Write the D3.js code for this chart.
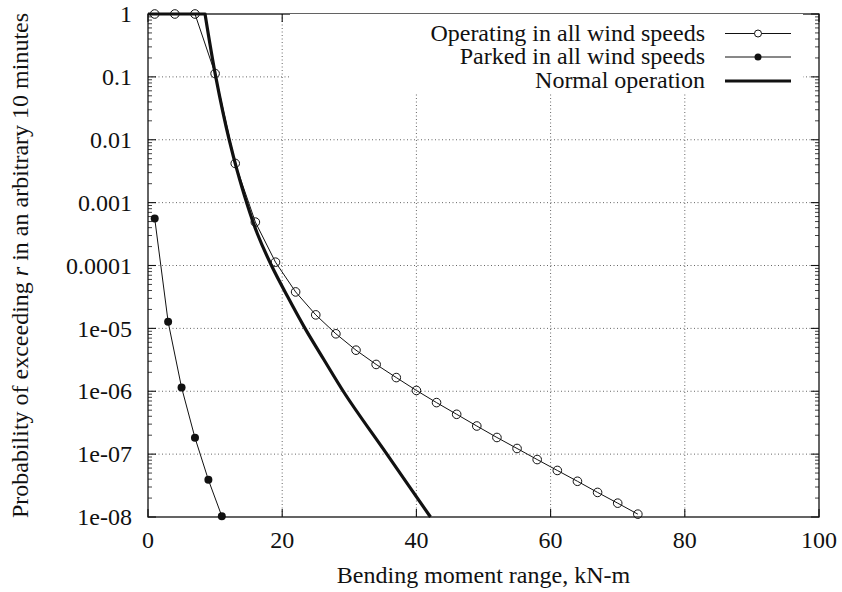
<!DOCTYPE html>
<html>
<head>
<meta charset="utf-8">
<script src="https://cdn.jsdelivr.net/npm/d3@7"></script>
<style>
  html, body { margin: 0; padding: 0; background: #fff; }
  svg { display: block; }
</style>
</head>
<body>
<svg id="chart" width="842" height="592"></svg>
<script>
// Exceedance probability vs. bending moment range
const operatingX = [1, 4, 7, 10, 13, 16, 19, 22, 25, 28, 31, 34, 37, 40, 43, 46, 49, 52, 55, 58, 61, 64, 67, 70, 73];
const operatingY = [1, 1, 1, 0.113, 0.0042, 4.9e-4, 1.13e-4, 3.8e-5, 1.64e-5, 8.2e-6, 4.5e-6, 2.67e-6, 1.65e-6,
                    1.03e-6, 6.6e-7, 4.3e-7, 2.8e-7, 1.84e-7, 1.23e-7, 8.2e-8, 5.5e-8, 3.7e-8, 2.46e-8, 1.66e-8, 1.11e-8];

const parkedX = [1, 3, 5, 7, 9, 11];
const parkedY = [5.6e-4, 1.27e-5, 1.15e-6, 1.82e-7, 3.9e-8, 1.03e-8];

const normalX = [0, 8.5, 10.1, 12.1, 13.3, 14.7, 16.3, 18.4, 20.8, 23.4, 26.2, 29.1, 35.6, 42.1];
const normalY = [1, 1, 0.1, 0.01, 0.0032, 0.001, 3.2e-4, 1e-4, 3.2e-5, 1e-5, 3.2e-6, 1e-6, 1e-7, 1e-8];

const xTicks = [0, 20, 40, 60, 80, 100];
const yTicks = [1, 0.1, 0.01, 0.001, 0.0001, 1e-5, 1e-6, 1e-7, 1e-8];
const yTickLabels = ["1", "0.1", "0.01", "0.001", "0.0001", "1e-05", "1e-06", "1e-07", "1e-08"];

const seriesNames = ["Operating in all wind speeds", "Parked in all wind speeds", "Normal operation"];

const W = 842, H = 592;
const margin = { left: 148, right: 23, top: 14, bottom: 75 };
const pw = W - margin.left - margin.right;
const ph = H - margin.top - margin.bottom;
const FS = 24;
const FONT = "Liberation Serif";
const INK = "#111";

const svg = d3.select("#chart");
const g = svg.append("g").attr("transform", `translate(${margin.left},${margin.top})`);

const x = d3.scaleLinear().domain([0, 100]).range([0, pw]);
const y = d3.scaleLog().domain([1e-8, 1]).range([ph, 0]);

function label(sel) {
  return sel.style("font-family", FONT).attr("font-size", FS).attr("fill", INK);
}

svg.append("defs").append("clipPath").attr("id", "plotclip")
  .append("rect").attr("x", -6).attr("y", -6).attr("width", pw + 12).attr("height", ph + 12);

// dotted grid
const grid = g.append("g").attr("stroke", "#666").attr("stroke-width", 1).attr("stroke-dasharray", "1,2.5");
grid.selectAll("line.gx").data(xTicks.slice(1, -1)).join("line")
  .attr("x1", d => x(d)).attr("x2", d => x(d)).attr("y1", 0).attr("y2", ph);
grid.selectAll("line.gy").data(yTicks.slice(1, -1)).join("line")
  .attr("x1", 0).attr("x2", pw).attr("y1", d => y(d)).attr("y2", d => y(d));

// opaque key box hides the grid behind it
const keyBox = { x0: 290, x1: 803, y0: 14, y1: 94 };
svg.append("rect").attr("x", keyBox.x0).attr("y", keyBox.y0)
  .attr("width", keyBox.x1 - keyBox.x0).attr("height", keyBox.y1 - keyBox.y0).attr("fill", "#fff");

// minor log ticks
const minorVals = [];
for (let e = -8; e < 0; e++) for (let m = 2; m <= 9; m++) minorVals.push(m * Math.pow(10, e));

const axes = g.append("g").attr("stroke", INK);
const minorLen = 4, majorLen = 8;
axes.selectAll("line.ml").data(minorVals).join("line")
  .attr("x1", 0).attr("x2", minorLen).attr("y1", d => y(d)).attr("y2", d => y(d)).attr("stroke-width", 0.8);
axes.selectAll("line.mr").data(minorVals).join("line")
  .attr("x1", pw).attr("x2", pw - minorLen).attr("y1", d => y(d)).attr("y2", d => y(d)).attr("stroke-width", 0.8);
axes.selectAll("line.yl").data(yTicks).join("line")
  .attr("x1", 0).attr("x2", majorLen).attr("y1", d => y(d)).attr("y2", d => y(d)).attr("stroke-width", 1.1);
axes.selectAll("line.yr").data(yTicks).join("line")
  .attr("x1", pw).attr("x2", pw - majorLen).attr("y1", d => y(d)).attr("y2", d => y(d)).attr("stroke-width", 1.1);
axes.selectAll("line.xb").data(xTicks).join("line")
  .attr("x1", d => x(d)).attr("x2", d => x(d)).attr("y1", ph).attr("y2", ph - majorLen).attr("stroke-width", 1.1);
axes.selectAll("line.xt").data(xTicks).join("line")
  .attr("x1", d => x(d)).attr("x2", d => x(d)).attr("y1", 0).attr("y2", majorLen).attr("stroke-width", 1.1);

// border
g.append("rect").attr("x", 0).attr("y", 0).attr("width", pw).attr("height", ph)
  .attr("fill", "none").attr("stroke", INK).attr("stroke-width", 1.3);

// tick labels
g.append("g").selectAll("text").data(xTicks).join("text")
  .attr("x", d => x(d)).attr("y", ph + 31).attr("text-anchor", "middle")
  .call(label).text(d => d);
g.append("g").selectAll("text").data(yTicks).join("text")
  .attr("x", -16).attr("y", d => y(d)).attr("dy", "0.34em").attr("text-anchor", "end")
  .call(label).text((d, i) => yTickLabels[i]);

// axis titles
svg.append("text").attr("x", margin.left + pw / 2).attr("y", 583).attr("text-anchor", "middle")
  .call(label).text("Bending moment range, kN-m");
const yt = svg.append("text").attr("transform", `translate(28,${margin.top + ph / 2}) rotate(-90)`)
  .attr("text-anchor", "middle").call(label);
yt.append("tspan").style("font-family", FONT).text("Probability of exceeding ");
yt.append("tspan").style("font-family", FONT).attr("font-style", "italic").text("r");
yt.append("tspan").style("font-family", FONT).text(" in an arbitrary 10 minutes");

// data
const plot = g.append("g").attr("clip-path", "url(#plotclip)");
const line = d3.line().x(d => x(d[0])).y(d => y(d[1]));
const smooth = d3.line().x(d => x(d[0])).y(d => y(d[1])).curve(d3.curveMonotoneY);

const opData = operatingX.map((v, i) => [v, operatingY[i]]);
const pkData = parkedX.map((v, i) => [v, parkedY[i]]);
const nmData = normalX.map((v, i) => [v, normalY[i]]);

// flat stretch at probability 1, then a smooth fall-off
const nmPath = `M${x(nmData[0][0])},${y(nmData[0][1])}` + smooth(nmData.slice(1)).replace(/^M/, "L");
plot.append("path").attr("d", nmPath)
  .attr("fill", "none").attr("stroke", INK).attr("stroke-width", 3.2).attr("stroke-linejoin", "round");
plot.append("path").datum(opData).attr("d", line)
  .attr("fill", "none").attr("stroke", INK).attr("stroke-width", 1);
plot.append("path").datum(pkData).attr("d", line)
  .attr("fill", "none").attr("stroke", INK).attr("stroke-width", 1);

plot.selectAll("circle.op").data(opData).join("circle")
  .attr("cx", d => x(d[0])).attr("cy", d => y(d[1])).attr("r", 4.3)
  .attr("fill", "none").attr("stroke", INK).attr("stroke-width", 1);
plot.selectAll("circle.pk").data(pkData).join("circle")
  .attr("cx", d => x(d[0])).attr("cy", d => y(d[1])).attr("r", 4)
  .attr("fill", INK);

// key
const key = svg.append("g");
const keyRows = [33.5, 57, 81];
const sx0 = 725, sx1 = 791, sxm = 758;
seriesNames.forEach((name, i) => {
  const ky = keyRows[i];
  key.append("text").attr("x", 705).attr("y", ky).attr("dy", "0.3em").attr("text-anchor", "end")
    .call(label).text(name);
  key.append("line").attr("x1", sx0).attr("x2", sx1).attr("y1", ky).attr("y2", ky)
    .attr("stroke", INK).attr("stroke-width", i === 2 ? 3.2 : 1);
  if (i === 0) key.append("circle").attr("cx", sxm).attr("cy", ky).attr("r", 3.5)
    .attr("fill", "#fff").attr("stroke", INK).attr("stroke-width", 1);
  if (i === 1) key.append("circle").attr("cx", sxm).attr("cy", ky).attr("r", 3.5).attr("fill", INK);
});
</script>
</body>
</html>
